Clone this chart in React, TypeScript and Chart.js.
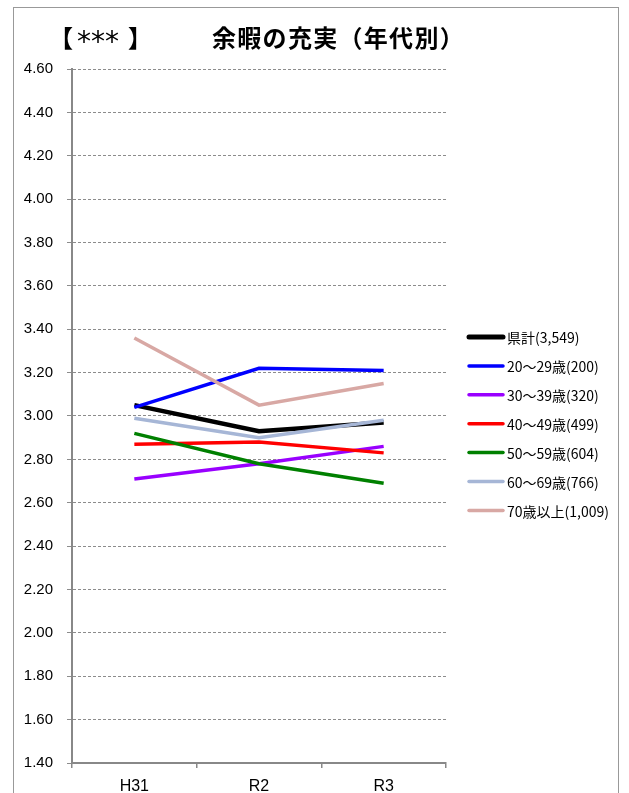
import React, { useEffect, useRef } from "react";
import { Chart, registerables } from "chart.js";

Chart.register(...registerables);

const categories = ["H31", "R2", "R3"];
const seriesLabels = [
  "県計(3,549)",
  "20～29歳(200)",
  "30～39歳(320)",
  "40～49歳(499)",
  "50～59歳(604)",
  "60～69歳(766)",
  "70歳以上(1,009)",
];
const seriesColors = [
  "#000000",
  "#0000FF",
  "#9900FF",
  "#FF0000",
  "#008000",
  "#A6B6D6",
  "#D8A8A4",
];
const seriesWidths = [4.5, 3.5, 3.5, 3.5, 3.5, 3.5, 3.5];
const kenkei = [3.05, 2.93, 2.97];
const age20s = [3.04, 3.22, 3.21];
const age30s = [2.71, 2.78, 2.86];
const age40s = [2.87, 2.88, 2.83];
const age50s = [2.92, 2.78, 2.69];
const age60s = [2.99, 2.9, 2.98];
const age70plus = [3.36, 3.05, 3.15];
const seriesValues = [kenkei, age20s, age30s, age40s, age50s, age60s, age70plus];
const yTicks = [1.4, 1.6, 1.8, 2.0, 2.2, 2.4, 2.6, 2.8, 3.0, 3.2, 3.4, 3.6, 3.8, 4.0, 4.2, 4.4, 4.6];

const legendPlugin = {
  id: "customLegend",
  afterDraw(chart: any) {
    const { ctx, chartArea } = chart;
    const x0 = chartArea.right + 23;
    const y0 = chartArea.top + 268;
    const step = 28.9;
    ctx.save();
    ctx.font = '14px "Noto Sans CJK JP", sans-serif';
    ctx.textBaseline = "middle";
    ctx.textAlign = "left";
    chart.data.datasets.forEach((ds: any, i: number) => {
      const y = y0 + i * step;
      ctx.beginPath();
      ctx.strokeStyle = ds.borderColor;
      ctx.lineWidth = i === 0 ? 5 : 3.5;
      ctx.lineCap = "round";
      ctx.moveTo(x0, y);
      ctx.lineTo(x0 + 34, y);
      ctx.stroke();
      ctx.fillStyle = "#000";
      ctx.fillText(ds.label, x0 + 38, y + 1);
    });
    ctx.restore();
  },
};

export default function App() {
  const ref = useRef<HTMLCanvasElement>(null);
  useEffect(() => {
    if (!ref.current) return;
    const chart = new Chart(ref.current, {
      type: "line",
      data: {
        labels: categories,
        datasets: seriesValues.map((vals, i) => ({
          label: seriesLabels[i],
          data: vals,
          borderColor: seriesColors[i],
          backgroundColor: seriesColors[i],
          borderWidth: seriesWidths[i],
          pointRadius: 0,
          tension: 0,
          order: seriesValues.length - i,
        })),
      },
      options: {
        animation: false,
        responsive: false,
        maintainAspectRatio: false,
        layout: { padding: { left: 0, top: 69, right: 183, bottom: 0 } },
        plugins: {
          legend: { display: false },
          tooltip: { enabled: false },
          title: { display: false },
        },
        scales: {
          x: {
            offset: true,
            grid: {
              offset: true,
              drawOnChartArea: false,
              drawTicks: true,
              tickLength: 5,
              color: "#888888",
              lineWidth: 1.5,
            },
            border: { display: true, color: "#888888", width: 2 },
            ticks: {
              color: "#000",
              padding: 9,
              font: { family: '"Liberation Sans", Arial, sans-serif', size: 16 },
            },
            afterFit(scale: any) {
              scale.height = 30;
            },
          },
          y: {
            min: 1.4,
            max: 4.6,
            afterBuildTicks(scale: any) {
              scale.ticks = yTicks.map((v) => ({ value: v }));
            },
            grid: {
              color: "#8c8c8c",
              lineWidth: 1,
              drawTicks: true,
              tickLength: 5,
              tickColor: "#8c8c8c",
            },
            border: { display: true, color: "#888888", width: 2, dash: [3, 2] },
            ticks: {
              color: "#000",
              padding: 14,
              callback: (v: any) => Number(v).toFixed(2),
              font: { family: '"Liberation Sans", Arial, sans-serif', size: 15 },
            },
            afterFit(scale: any) {
              scale.width = 72;
            },
          },
        },
      },
      plugins: [legendPlugin],
    });
    return () => chart.destroy();
  }, []);

  const titleStyle: React.CSSProperties = {
    position: "absolute",
    top: 21,
    fontFamily: '"Noto Sans CJK JP", sans-serif',
    fontWeight: 700,
    fontSize: 24,
    lineHeight: "32px",
    whiteSpace: "nowrap",
  };

  return (
    <div style={{ position: "absolute", left: 0, top: 0, width: 629, height: 793, overflow: "hidden", background: "#fff" }}>
      <div
        style={{
          position: "absolute",
          left: 13,
          top: 7,
          width: 604,
          height: 820,
          border: "1px solid #999",
        }}
      />
      <canvas ref={ref} width={629} height={793} style={{ position: "absolute", left: 0, top: 0 }} />
      <div style={{ ...titleStyle, left: 49 }}>【</div>
      <div
        style={{
          ...titleStyle,
          left: 77,
          top: 26,
          fontFamily: '"DejaVu Sans", sans-serif',
          fontWeight: 400,
          fontSize: 28,
        }}
      >
        ***
      </div>
      <div style={{ ...titleStyle, left: 128 }}>】</div>
      <div style={{ ...titleStyle, left: 212, letterSpacing: "1.3px" }}>余暇の充実（年代別）</div>
    </div>
  );
}
